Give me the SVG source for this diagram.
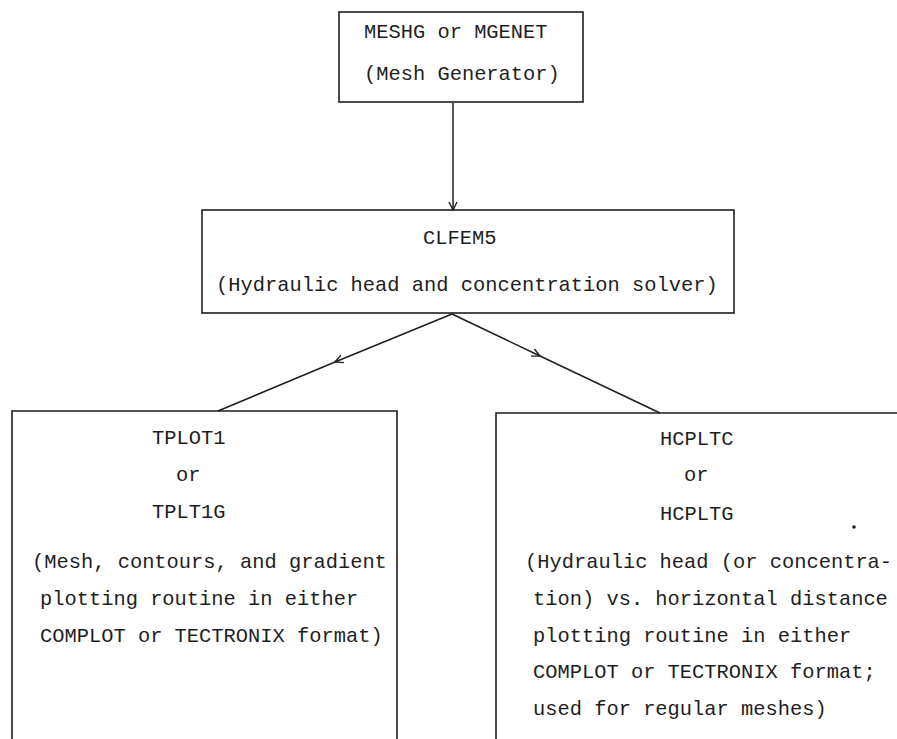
<svg xmlns="http://www.w3.org/2000/svg" width="897" height="739" viewBox="0 0 897 739">
<style>
.box{fill:none;stroke:#1e1e1e;stroke-width:1.6}
.con{fill:none;stroke:#1e1e1e;stroke-width:1.5}
text{font-family:"Liberation Mono","DejaVu Sans Mono",monospace;font-size:20.4px;fill:#1e1e1e}
</style>
<defs>
<marker id="arr" viewBox="0 0 10 10" refX="9" refY="5" markerWidth="10" markerHeight="10" markerUnits="userSpaceOnUse" orient="auto">
<path d="M1,1 L9,5 L1,9" fill="none" stroke="#1e1e1e" stroke-width="1.4"/>
</marker>
</defs>
<rect width="897" height="739" fill="#ffffff"/>
<g id="connectors">
<path class="con" d="M453,103 L453,210" marker-end="url(#arr)"/>
<polyline class="con" points="452,314 335,362 218,411" marker-mid="url(#arr)"/>
<polyline class="con" points="452,314 540,356 660,413" marker-mid="url(#arr)"/>
</g>
<g id="meshg">
<rect class="box" x="339" y="12" width="244" height="90"/>
<text x="364" y="38">MESHG or MGENET</text>
<text x="364" y="80">(Mesh Generator)</text>
</g>
<g id="clfem5">
<rect class="box" x="202" y="210" width="532" height="103"/>
<text x="423" y="244">CLFEM5</text>
<text x="216" y="291">(Hydraulic head and concentration solver)</text>
</g>
<g id="tplot">
<path class="box" d="M12,739 V411 H397 V739"/>
<text x="152" y="444">TPLOT1</text>
<text x="176" y="481">or</text>
<text x="152" y="518">TPLT1G</text>
<text x="32" y="568">(Mesh, contours, and gradient</text>
<text x="40" y="605">plotting routine in either</text>
<text x="40" y="642">COMPLOT or TECTRONIX format)</text>
</g>
<g id="hcplt">
<path class="box" d="M496,739 V413 H897"/>
<text x="660" y="445">HCPLTC</text>
<text x="684" y="481">or</text>
<text x="660" y="520">HCPLTG</text>
<text x="525" y="568">(Hydraulic head (or concentra-</text>
<text x="533" y="605">tion) vs. horizontal distance</text>
<text x="533" y="642">plotting routine in either</text>
<text x="533" y="678">COMPLOT or TECTRONIX format;</text>
<text x="533" y="715">used for regular meshes)</text>
<circle cx="854" cy="527" r="1.8" fill="#1e1e1e"/>
</g>
</svg>
